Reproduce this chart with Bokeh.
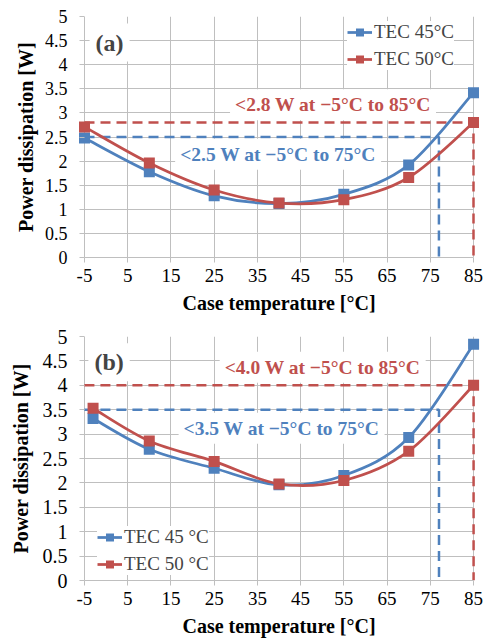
from bokeh.plotting import figure
from bokeh.models import Label, Legend, LegendItem, FixedTicker
from bokeh.layouts import column
from bokeh.embed import file_html
from bokeh.resources import INLINE

# ---------------- data ----------------
x_ticks = [-5, 5, 15, 25, 35, 45, 55, 65, 75, 85]
x_tick_labels = ["-5", "5", "15", "25", "35", "45", "55", "65", "75", "85"]
y_ticks = [0, 0.5, 1, 1.5, 2, 2.5, 3, 3.5, 4, 4.5, 5]
y_tick_labels = ["0", "0.5", "1", "1.5", "2", "2.5", "3", "3.5", "4", "4.5", "5"]

a_temp = [-5, 10, 25, 40, 55, 70, 85]
a_tec45 = [2.48, 1.78, 1.28, 1.12, 1.31, 1.92, 3.42]
a_tec50 = [2.71, 1.96, 1.40, 1.13, 1.20, 1.66, 2.80]

b_temp = [-3, 10, 25, 40, 55, 70, 85]
b_tec45 = [3.32, 2.69, 2.30, 1.96, 2.15, 2.93, 4.84]
b_tec50 = [3.53, 2.86, 2.44, 1.98, 2.05, 2.65, 4.00]

limit_start = -5
a_limit_red, a_limit_red_x = 2.8, 85
a_limit_blue, a_limit_blue_x = 2.5, 77
b_limit_red, b_limit_red_x = 4.0, 85
b_limit_blue, b_limit_blue_x = 3.5, 77

a_legend = ["TEC 45°C", "TEC 50°C"]
b_legend = ["TEC 45 °C", "TEC 50 °C"]
a_notes = ["<2.8 W at −5°C to 85°C", "<2.5 W at −5°C to 75°C"]
b_notes = ["<4.0 W at −5°C to 85°C", "<3.5 W at −5°C to 75°C"]

BLUE = "#4F81BD"
RED = "#C0504D"
GRID = "#BFBFBF"
FONT = "Liberation Serif"
X_MIN, X_MAX = -5, 85
PAD_PX = 7  # extra frame space so edge markers are not clipped


def smooth(xs, ys):
    n = len(xs)
    d = dict(x0=[], y0=[], x1=[], y1=[], cx0=[], cy0=[], cx1=[], cy1=[])
    for i in range(n - 1):
        pm = i - 1 if i > 0 else i
        pp = i + 2 if i + 2 < n else i + 1
        d["x0"].append(xs[i]); d["y0"].append(ys[i])
        d["x1"].append(xs[i + 1]); d["y1"].append(ys[i + 1])
        d["cx0"].append(xs[i] + (xs[i + 1] - xs[pm]) / 6)
        d["cy0"].append(ys[i] + (ys[i + 1] - ys[pm]) / 6)
        d["cx1"].append(xs[i + 1] - (xs[pp] - xs[i]) / 6)
        d["cy1"].append(ys[i + 1] - (ys[pp] - ys[i]) / 6)
    return d


def panel(height, axis_left, axis_right, frame_h, temp, s45, s50, lims, legend_labels,
          legend_xy, tag, notes, note_pos, ylab_size, ylab_standoff, ytitle_standoff,
          xlab_standoff):
    plot_w = axis_right - axis_left
    unit = (X_MAX - X_MIN) / plot_w
    pad = PAD_PX * unit
    p = figure(width=486, height=height, x_range=(X_MIN - pad, X_MAX + pad), y_range=(0, 5),
               output_backend="svg", toolbar_location=None,
               min_border_left=axis_left - PAD_PX, min_border_right=486 - axis_right - PAD_PX,
               min_border_top=16, min_border_bottom=height - 16 - frame_h)
    p.background_fill_color = "white"
    p.border_fill_color = "white"
    p.outline_line_color = None

    p.xaxis.ticker = FixedTicker(ticks=x_ticks)
    p.yaxis.ticker = FixedTicker(ticks=y_ticks)
    p.xaxis.major_label_overrides = {t: l for t, l in zip(x_ticks, x_tick_labels)}
    p.yaxis.major_label_overrides = {t: l for t, l in zip(y_ticks, y_tick_labels)}
    p.xaxis.bounds = (X_MIN, X_MAX)
    for ax in (p.xaxis, p.yaxis):
        ax.axis_line_color = GRID
        ax.major_tick_line_color = GRID
        ax.minor_tick_line_color = None
        ax.major_label_text_font = FONT
        ax.major_label_text_color = "black"
        ax.axis_label_text_font = FONT
        ax.axis_label_text_font_style = "bold"
        ax.axis_label_text_font_size = "20px"
        ax.axis_label_text_color = "black"
    p.xaxis.major_tick_out = 5
    p.xaxis.major_tick_in = 0
    # y axis sits at the frame edge; its visible line is the x=-5 grid line
    p.yaxis.axis_line_color = None
    p.yaxis.major_tick_in = PAD_PX
    p.yaxis.major_tick_out = -2
    p.xaxis.major_label_text_font_size = "19px"
    p.yaxis.major_label_text_font_size = ylab_size
    p.xaxis.major_label_standoff = xlab_standoff
    p.yaxis.major_label_standoff = ylab_standoff
    p.xaxis.axis_label_standoff = 7
    p.yaxis.axis_label_standoff = ytitle_standoff
    p.xaxis.axis_label = "Case temperature [°C]"
    p.yaxis.axis_label = "Power dissipation [W]"
    p.xgrid.grid_line_color = GRID
    p.ygrid.grid_line_color = GRID
    p.xgrid.ticker = FixedTicker(ticks=x_ticks)
    p.ygrid.ticker = FixedTicker(ticks=y_ticks)
    p.ygrid.cross_bounds = (X_MIN, X_MAX)

    # threshold dashed lines
    (lr, lrx), (lb, lbx) = lims
    p.line([limit_start, lrx, lrx], [lr, lr, 0], line_color=RED, line_width=2.5,
           line_dash="10 6")
    p.line([limit_start, lbx, lbx], [lb, lb, 0], line_color=BLUE, line_width=2.5,
           line_dash="10 6")

    leg_items = []
    for ys, col, lab in ((s45, BLUE, legend_labels[0]), (s50, RED, legend_labels[1])):
        p.bezier(line_color=col, line_width=2.75, **smooth(temp, ys))
        r2 = p.scatter(temp, ys, marker="square", size=11, fill_color=col, line_color=None)
        rl = p.line([-100, -99], [-100, -99], line_color=col, line_width=2.75)
        leg_items.append(LegendItem(label=lab, renderers=[rl, r2]))

    leg = Legend(items=leg_items, location=legend_xy, background_fill_color="white",
                 background_fill_alpha=1, border_line_color=None,
                 label_text_font=FONT, label_text_font_size="19px",
                 glyph_width=25, glyph_height=20, label_height=20,
                 spacing=5, padding=3, margin=0, label_standoff=2)
    p.add_layout(leg)

    p.add_layout(Label(x=note_pos[0][0], y=note_pos[0][1], text=tag,
                       text_font=FONT, text_font_style="bold", text_font_size="24px",
                       text_align="center", text_baseline="middle",
                       background_fill_color="white", padding=6))
    for txt, col, (nx, ny) in zip(notes, (RED, BLUE), note_pos[1:]):
        p.add_layout(Label(x=nx, y=ny, text=txt, text_color=col,
                           text_font=FONT, text_font_style="bold", text_font_size="19.5px",
                           text_align="center", text_baseline="middle",
                           background_fill_color="white", padding=5))
    return p


pa = panel(320, 84, 473, 241, a_temp, a_tec45, a_tec50,
           ((a_limit_red, a_limit_red_x), (a_limit_blue, a_limit_blue_x)),
           a_legend, (270, 187), "(a)", a_notes,
           [(0.8, 4.46), (52.5, 3.17), (39.8, 2.14)], "18px", 10, 5, 6)
pb = panel(323, 79, 473, 244, b_temp, b_tec45, b_tec50,
           ((b_limit_red, b_limit_red_x), (b_limit_blue, b_limit_blue_x)),
           b_legend, (20, 5), "(b)", b_notes,
           [(0.7, 4.47), (50.1, 4.37), (40.6, 3.12)], "20px", 10, 8, 6)

layout = column(pa, pb, spacing=0)
open("out.html", "w").write(file_html(layout, INLINE))
